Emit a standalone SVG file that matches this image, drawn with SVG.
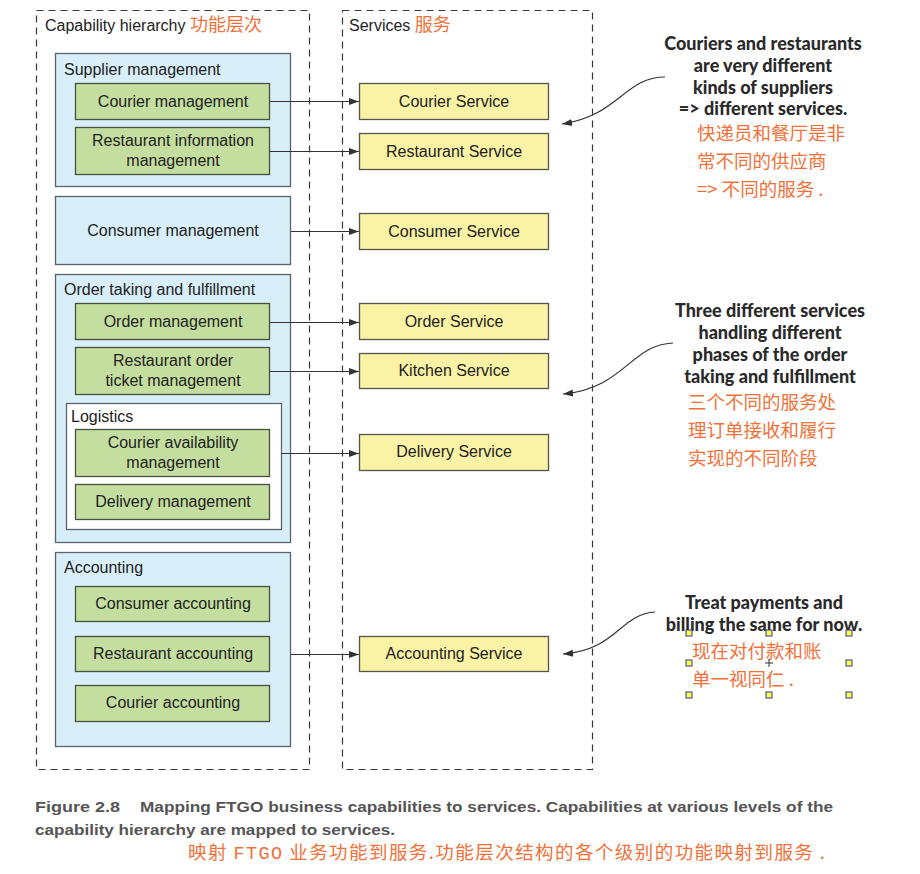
<svg xmlns="http://www.w3.org/2000/svg" width="920" height="874" viewBox="0 0 920 874">
<style>
.bg{fill:#ffffff}
.dash{fill:none;stroke:#3a3a3a;stroke-width:1.2;stroke-dasharray:7,5}
.grp{fill:#d8eef8;stroke:#5a646c;stroke-width:1.3}
.log{fill:#ffffff;stroke:#5a646c;stroke-width:1.3}
.cap{fill:#c4de9f;stroke:#46523e;stroke-width:1.3}
.svc{fill:#faf3a5;stroke:#55554a;stroke-width:1.3}
.t{font-family:"Liberation Sans",Arial,sans-serif;font-size:16px;fill:#222}
.c{text-anchor:middle}
.zh{font-family:"Noto Sans CJK SC","Liberation Sans",sans-serif;fill:#f07138}
.note{font-family:Lato,"Liberation Sans",sans-serif;font-weight:900;font-size:18px;fill:#2a2a2a;text-anchor:middle}
.cn{font-family:"Noto Sans CJK SC",sans-serif;font-size:18.5px;fill:#f07138}
.conn{fill:none;stroke:#333;stroke-width:1.2}
.cap2{font-family:"Liberation Sans",Arial,sans-serif;font-weight:700;font-size:15px;fill:#555}
.h{fill:#ffff44;stroke:#333399;stroke-width:1}
</style>
<defs>
<marker id="ah" viewBox="0 0 10 10" refX="10" refY="5" markerWidth="10" markerHeight="10" markerUnits="userSpaceOnUse" orient="auto">
<path d="M0,1.5 L10,5 L0,8.5 Z" fill="#333"/>
</marker>
</defs>
<rect class="bg" x="0" y="0" width="920" height="874"/>

<g id="capability-hierarchy">
<rect class="dash" x="36.5" y="10.5" width="273" height="759"/>
<text class="t" x="45" y="31">Capability hierarchy <tspan class="zh" font-size="18">功能层次</tspan></text>
</g>
<g id="services-container">
<rect class="dash" x="342.5" y="10.5" width="250" height="759"/>
<text class="t" x="349" y="31">Services <tspan class="zh" font-size="18">服务</tspan></text>
</g>

<g id="supplier-management">
<rect class="grp" x="55.5" y="53.5" width="235" height="133"/>
<text class="t" x="64" y="75">Supplier management</text>
</g>
<g id="courier-management">
<rect class="cap" x="75.5" y="83.5" width="194" height="36"/>
<text class="t c" x="173" y="107">Courier management</text>
</g>
<g id="restaurant-information-management">
<rect class="cap" x="75.5" y="127.5" width="194" height="47"/>
<text class="t c" x="173" y="146">Restaurant information</text>
<text class="t c" x="173" y="166">management</text>
</g>
<g id="consumer-management">
<rect class="grp" x="55.5" y="196.5" width="235" height="68"/>
<text class="t c" x="173" y="236">Consumer management</text>
</g>
<g id="order-taking">
<rect class="grp" x="55.5" y="274.5" width="235" height="268"/>
<text class="t" x="64" y="295">Order taking and fulfillment</text>
</g>
<g id="order-management">
<rect class="cap" x="75.5" y="303.5" width="194" height="36"/>
<text class="t c" x="173" y="327">Order management</text>
</g>
<g id="restaurant-order-ticket-management">
<rect class="cap" x="75.5" y="347.5" width="194" height="47"/>
<text class="t c" x="173" y="366">Restaurant order</text>
<text class="t c" x="173" y="386">ticket management</text>
</g>
<g id="logistics">
<rect class="log" x="66.5" y="403.5" width="215" height="126"/>
<text class="t" x="71" y="422">Logistics</text>
</g>
<g id="courier-availability-management">
<rect class="cap" x="75.5" y="429.5" width="194" height="47"/>
<text class="t c" x="173" y="448">Courier availability</text>
<text class="t c" x="173" y="468">management</text>
</g>
<g id="delivery-management">
<rect class="cap" x="75.5" y="484.5" width="194" height="35"/>
<text class="t c" x="173" y="507">Delivery management</text>
</g>
<g id="accounting">
<rect class="grp" x="55.5" y="552.5" width="235" height="194"/>
<text class="t" x="64" y="573">Accounting</text>
</g>
<g id="consumer-accounting">
<rect class="cap" x="75.5" y="586.5" width="194" height="35"/>
<text class="t c" x="173" y="609">Consumer accounting</text>
</g>
<g id="restaurant-accounting">
<rect class="cap" x="75.5" y="636.5" width="194" height="35"/>
<text class="t c" x="173" y="659">Restaurant accounting</text>
</g>
<g id="courier-accounting">
<rect class="cap" x="75.5" y="685.5" width="194" height="36"/>
<text class="t c" x="173" y="708">Courier accounting</text>
</g>

<g id="courier-service">
<rect class="svc" x="359.5" y="83.5" width="189" height="36"/>
<text class="t c" x="454" y="107">Courier Service</text>
</g>
<g id="restaurant-service">
<rect class="svc" x="359.5" y="133.5" width="189" height="36"/>
<text class="t c" x="454" y="157">Restaurant Service</text>
</g>
<g id="consumer-service">
<rect class="svc" x="359.5" y="213.5" width="189" height="36"/>
<text class="t c" x="454" y="237">Consumer Service</text>
</g>
<g id="order-service">
<rect class="svc" x="359.5" y="303.5" width="189" height="36"/>
<text class="t c" x="454" y="327">Order Service</text>
</g>
<g id="kitchen-service">
<rect class="svc" x="359.5" y="353.5" width="189" height="35"/>
<text class="t c" x="454" y="376">Kitchen Service</text>
</g>
<g id="delivery-service">
<rect class="svc" x="359.5" y="434.5" width="189" height="36"/>
<text class="t c" x="454" y="457">Delivery Service</text>
</g>
<g id="accounting-service">
<rect class="svc" x="359.5" y="636.5" width="189" height="35"/>
<text class="t c" x="454" y="659">Accounting Service</text>
</g>

<g id="connectors">
<line class="conn" x1="270" y1="101.5" x2="359" y2="101.5" marker-end="url(#ah)"/>
<line class="conn" x1="270" y1="151.5" x2="359" y2="151.5" marker-end="url(#ah)"/>
<line class="conn" x1="291" y1="231.5" x2="359" y2="231.5" marker-end="url(#ah)"/>
<line class="conn" x1="270" y1="322.5" x2="359" y2="322.5" marker-end="url(#ah)"/>
<line class="conn" x1="270" y1="371.5" x2="359" y2="371.5" marker-end="url(#ah)"/>
<line class="conn" x1="282" y1="453.5" x2="359" y2="453.5" marker-end="url(#ah)"/>
<line class="conn" x1="291" y1="654.5" x2="359" y2="654.5" marker-end="url(#ah)"/>
<path class="conn" d="M665,77 C625,77 618,116 562,124" marker-end="url(#ah)"/>
<path class="conn" d="M673,343 C630,345 625,388 563,394" marker-end="url(#ah)"/>
<path class="conn" d="M655,612 C620,614 617,650 563,654" marker-end="url(#ah)"/>
</g>

<g id="note-suppliers">
<text class="note" x="763" y="50">Couriers and restaurants</text>
<text class="note" x="763" y="72">are very different</text>
<text class="note" x="763" y="94">kinds of suppliers</text>
<text class="note" x="763" y="115">=&gt; different services.</text>
<text class="cn" x="697" y="140">快递员和餐厅是非</text>
<text class="cn" x="697" y="168">常不同的供应商</text>
<text class="cn" x="697" y="196">=&gt; 不同的服务 .</text>
</g>
<g id="note-order">
<text class="note" x="770" y="317">Three different services</text>
<text class="note" x="770" y="339">handling different</text>
<text class="note" x="770" y="361">phases of the order</text>
<text class="note" x="770" y="383">taking and fulfillment</text>
<text class="cn" x="688" y="409">三个不同的服务处</text>
<text class="cn" x="688" y="437">理订单接收和履行</text>
<text class="cn" x="688" y="465">实现的不同阶段</text>
</g>
<g id="note-accounting">
<text class="note" x="764" y="609">Treat payments and</text>
<text class="note" x="764" y="631">billing the same for now.</text>
<text class="cn" x="692" y="658">现在对付款和账</text>
<text class="cn" x="692" y="686">单一视同仁 .</text>
<rect class="h" x="686" y="630" width="6" height="6"/>
<rect class="h" x="766" y="630" width="6" height="6"/>
<rect class="h" x="846" y="630" width="6" height="6"/>
<rect class="h" x="686" y="660" width="6" height="6"/>
<rect class="h" x="846" y="660" width="6" height="6"/>
<rect class="h" x="686" y="692" width="6" height="6"/>
<rect class="h" x="766" y="692" width="6" height="6"/>
<rect class="h" x="846" y="692" width="6" height="6"/>
<path d="M765,663 H773 M769,659 V667" stroke="#333" stroke-width="1"/>
</g>

<g id="caption">
<text class="cap2" x="35" y="812" textLength="85" lengthAdjust="spacingAndGlyphs">Figure 2.8</text>
<text class="cap2" x="140" y="812" textLength="693" lengthAdjust="spacingAndGlyphs">Mapping FTGO business capabilities to services. Capabilities at various levels of the</text>
<text class="cap2" x="35" y="835" textLength="360" lengthAdjust="spacingAndGlyphs">capability hierarchy are mapped to services.</text>
<text class="cn" x="188" y="859" font-size="17" textLength="637" lengthAdjust="spacing">映射  <tspan font-family="Liberation Mono,monospace">FTGO</tspan>  业务功能到服务.功能层次结构的各个级别的功能映射到服务 .</text>
</g>
</svg>
